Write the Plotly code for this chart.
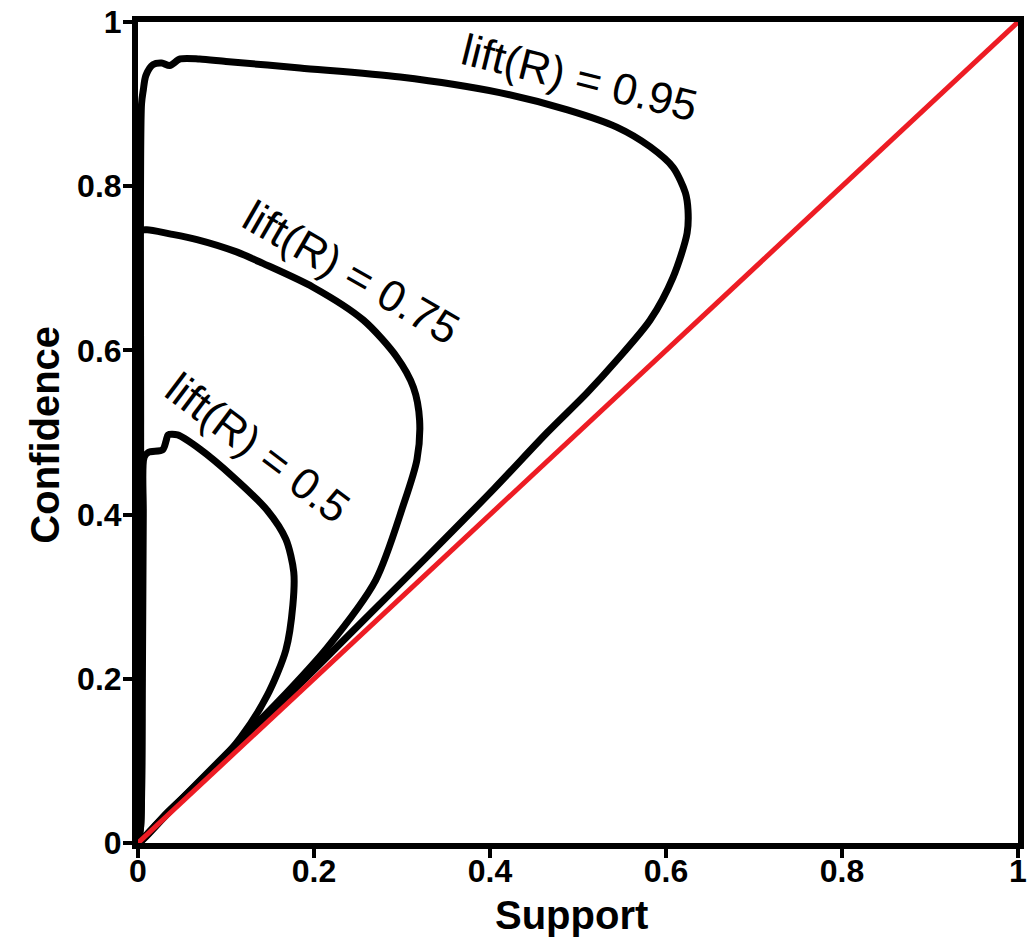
import plotly.graph_objects as go

# Iso-lift contours in the support / confidence plane
lift_095_support = [0.0, 0.003, 0.003, 0.004, 0.006, 0.009, 0.017, 0.027, 0.036, 0.048, 0.070,
                    0.100, 0.184, 0.298, 0.411, 0.488, 0.544, 0.582, 0.608, 0.622, 0.625,
                    0.624, 0.608, 0.582, 0.544, 0.510, 0.465, 0.405, 0.327, 0.243, 0.159,
                    0.097, 0.040, 0.0]
lift_095_conf = [0.0, 0.020, 0.500, 0.900, 0.917, 0.935, 0.948, 0.950, 0.947, 0.955, 0.955,
                 0.952, 0.944, 0.933, 0.914, 0.893, 0.872, 0.848, 0.823, 0.792, 0.771,
                 0.743, 0.689, 0.637, 0.588, 0.548, 0.500, 0.432, 0.347, 0.257, 0.167,
                 0.103, 0.043, 0.0]

lift_075_support = [0.0, 0.002, 0.002, 0.010, 0.036, 0.067, 0.112, 0.142, 0.199, 0.256, 0.294,
                    0.313, 0.320, 0.317, 0.301, 0.270, 0.215, 0.160, 0.112, 0.060, 0.020, 0.0]
lift_075_conf = [0.0, 0.010, 0.745, 0.747, 0.742, 0.735, 0.720, 0.706, 0.677, 0.637, 0.592,
                 0.555, 0.515, 0.467, 0.410, 0.320, 0.238, 0.173, 0.121, 0.065, 0.022, 0.0]

lift_050_support = [0.0, 0.003, 0.005, 0.006, 0.007, 0.012, 0.028, 0.032, 0.034, 0.045, 0.070,
                    0.108, 0.147, 0.168, 0.177, 0.176, 0.168, 0.147, 0.117, 0.083, 0.033, 0.0]
lift_050_conf = [0.0, 0.020, 0.200, 0.400, 0.470, 0.476, 0.479, 0.490, 0.497, 0.497, 0.480,
                 0.446, 0.405, 0.370, 0.330, 0.290, 0.235, 0.180, 0.129, 0.087, 0.037, 0.0]

# Diagonal reference: confidence == support
diag_support = [0.0, 1.0]
diag_conf = [0.0, 1.0]

# Contour labels: text, anchor (support, confidence), rotation in degrees
label_texts = ["lift(R) = 0.95", "lift(R) = 0.75", "lift(R) = 0.5"]
label_x = [0.502, 0.243, 0.136]
label_y = [0.932, 0.695, 0.482]
label_angles = [14, 30, 37]

tick_vals = [0, 0.2, 0.4, 0.6, 0.8, 1]
tick_text = ["0", "0.2", "0.4", "0.6", "0.8", "1"]

FONT = "Liberation Sans, Arial, sans-serif"

fig = go.Figure()
for xs, ys in [(lift_095_support, lift_095_conf),
               (lift_075_support, lift_075_conf),
               (lift_050_support, lift_050_conf)]:
    fig.add_trace(go.Scatter(x=xs, y=ys, mode="lines",
                             line=dict(color="black", width=7, shape="spline", smoothing=0.8),
                             showlegend=False, hoverinfo="skip", cliponaxis=False))

fig.add_trace(go.Scatter(x=diag_support, y=diag_conf, mode="lines",
                         line=dict(color="rgb(237,28,36)", width=5),
                         showlegend=False, hoverinfo="skip", cliponaxis=False))

for t, x, y, a in zip(label_texts, label_x, label_y, label_angles):
    fig.add_annotation(x=x, y=y, text=t, textangle=a, showarrow=False,
                       xanchor="center", yanchor="middle",
                       font=dict(family=FONT, size=44, color="black"))

# Axis titles
fig.add_annotation(xref="paper", yref="paper", x=0.493, y=-0.088, text="<b>Support</b>",
                   xanchor="center", yanchor="middle",
                   showarrow=False, font=dict(family=FONT, size=40, color="black"))
fig.add_annotation(xref="paper", yref="paper", x=-0.106, y=0.497, text="<b>Confidence</b>",
                   xanchor="center", yanchor="middle",
                   textangle=-90, showarrow=False, font=dict(family=FONT, size=40, color="black"))

axis_common = dict(range=[0, 1], tickvals=tick_vals, ticktext=tick_text,
                   showline=True, linecolor="black", linewidth=6, mirror=True,
                   ticks="outside", ticklen=9, tickwidth=4, tickcolor="black",
                   showgrid=False, zeroline=False, automargin=False,
                   tickfont=dict(family=FONT, size=32, color="black", weight="bold"))

fig.update_xaxes(**axis_common, ticklabelstandoff=-14)
fig.update_yaxes(**axis_common, ticklabelstandoff=-5)

fig.update_layout(width=1027, height=949,
                  margin=dict(l=138, r=9, t=22, b=106, autoexpand=False),
                  paper_bgcolor="white", plot_bgcolor="white")

fig.write_html("out.html")
